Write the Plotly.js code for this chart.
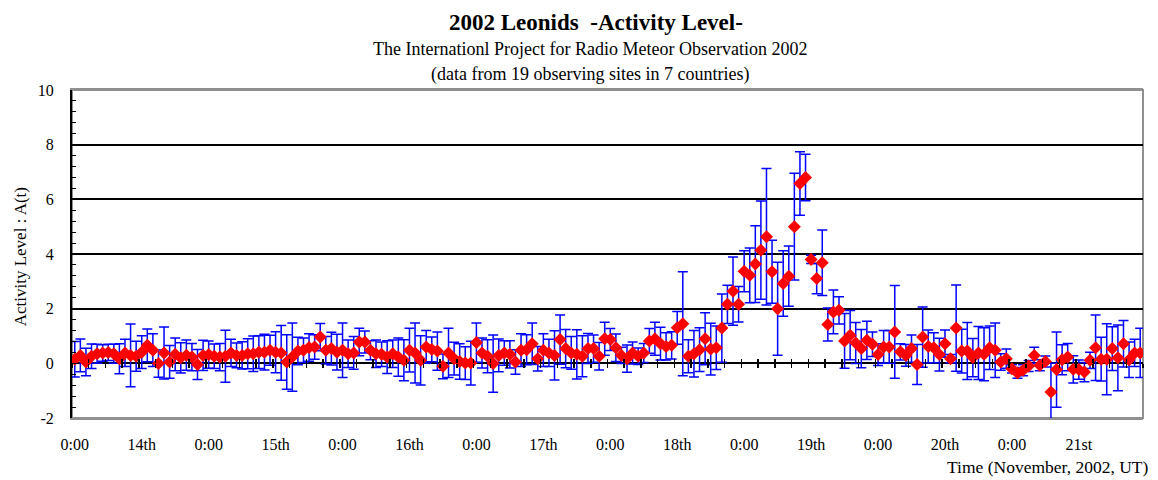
<!DOCTYPE html>
<html>
<head>
<meta charset="utf-8">
<script src="https://cdn.plot.ly/plotly-3.0.1.min.js"></script>
<style>html,body{margin:0;padding:0;background:#fff;}#chart{width:1158px;height:480px;}</style>
</head>
<body>
<div id="chart"></div>
<script>
// Hours since 14 November 2002 0:00 UT (hourly bins)
const hours = [0,1,2,3,4,5,6,7,8,9,10,11,12,13,14,15,16,17,18,19,20,21,22,23,
24,25,26,27,28,29,30,31,32,33,34,35,36,37,38,39,40,41,42,43,44,45,46,47,
48,49,50,51,52,53,54,55,56,57,58,59,60,61,62,63,64,65,66,67,68,69,70,71,
72,73,74,75,76,77,78,79,80,81,82,83,84,85,86,87,88,89,90,91,92,93,94,95,
96,97,98,99,100,101,102,103,104,105,106,107,108,109,110,111,112,113,114,115,116,117,118,119,
120,121,122,123,124,125,126,127,128,129,130,131,132,133,134,135,136,137,138,139,140,141,142,143,
144,145,146,147,148,149,150,151,152,153,154,155,156,157,158,159,160,161,162,163,164,165,166,167,
168,169,170,171,172,173,174,175,176,177,178,179,180,181,182,183,184,185,186,187,188,189,190,191];

// Activity level A(t)
const activity = [0.15,0.29,0.05,0.26,0.35,0.38,0.40,0.35,0.17,0.38,0.29,0.26,0.41,0.66,0.48,-0.01,0.38,0.05,0.33,0.20,0.30,0.23,-0.04,0.29,
0.32,0.26,0.23,0.26,0.38,0.29,0.29,0.35,0.35,0.41,0.41,0.48,0.41,0.38,0.05,0.23,0.45,0.48,0.58,0.60,0.96,0.48,0.54,0.41,
0.48,0.35,0.38,0.78,0.78,0.48,0.35,0.33,0.23,0.35,0.23,0.11,0.48,0.38,0.11,0.60,0.51,0.45,-0.11,0.38,0.17,0.07,0.01,0.01,
0.76,0.38,0.26,-0.01,0.29,0.38,0.33,0.05,0.48,0.50,0.72,0.17,0.48,0.38,0.29,0.87,0.54,0.38,0.33,0.26,0.54,0.54,0.26,0.90,
0.87,0.57,0.29,0.17,0.38,0.26,0.38,0.82,0.90,0.72,0.62,0.66,1.30,1.45,0.26,0.35,0.50,0.90,0.52,0.57,1.29,2.16,2.64,2.16,
3.37,3.22,3.63,4.14,4.63,3.35,2.00,2.92,3.19,5.00,6.58,6.80,3.80,3.10,3.68,1.42,1.88,1.94,0.82,1.03,0.74,0.54,0.84,0.70,
0.32,0.60,0.60,1.15,0.42,0.29,0.54,-0.04,0.96,0.62,0.57,0.32,0.72,0.17,1.29,0.45,0.45,0.21,0.38,0.33,0.57,0.48,0.05,0.17,
-0.20,-0.35,-0.25,-0.10,0.29,-0.07,0.07,-1.05,-0.23,0.13,0.23,-0.22,-0.23,-0.32,0.11,0.57,0.15,0.15,0.54,0.20,0.72,0.13,0.38,0.38];

// Error (±)
const errors = [0.65,0.60,0.50,0.45,0.35,0.30,0.30,0.35,0.55,0.50,1.15,0.55,0.60,0.60,0.60,0.50,0.95,0.60,0.60,0.55,0.55,0.50,0.55,0.55,
0.50,0.45,0.50,0.95,0.50,0.45,0.50,0.55,0.65,0.60,0.65,0.55,0.75,1.00,1.00,1.25,0.50,0.45,0.50,0.45,0.50,0.50,0.60,0.65,
1.00,0.50,0.60,0.50,0.40,0.35,0.50,0.45,0.60,0.50,0.70,0.75,0.80,1.10,0.90,0.60,0.45,0.70,0.45,0.90,0.60,0.65,0.60,0.80,
0.72,0.55,0.60,1.05,0.60,0.45,0.50,0.45,0.60,0.55,0.76,0.45,0.60,0.50,0.90,0.90,0.70,0.60,0.90,0.75,0.55,0.50,0.50,0.60,
0.40,0.50,0.30,0.50,0.40,0.30,0.35,0.45,0.60,0.60,0.50,0.50,0.60,1.90,0.60,0.85,0.80,0.95,0.95,0.80,1.25,0.70,1.25,0.65,
0.75,1.00,1.40,1.80,2.50,1.15,1.70,1.20,1.10,1.95,1.16,0.85,0.15,0.55,1.20,0.60,0.80,0.50,1.00,0.90,0.75,0.70,0.70,0.45,
0.40,0.60,0.60,1.70,0.30,0.40,0.50,0.73,1.10,0.60,0.55,0.60,0.50,0.15,1.58,0.80,1.04,0.70,0.97,0.97,0.80,1.00,0.30,0.35,
0.15,0.20,0.20,0.20,0.30,0.20,0.20,1.05,1.38,0.55,0.50,0.50,0.35,0.35,0.30,1.20,0.80,1.30,0.80,1.20,0.85,0.65,0.50,0.90];

// Axis labels
const tickHours = [0,12,24,36,48,60,72,84,96,108,120,132,144,156,168,180];
const tickLabels = ["0:00","14th","0:00","15th","0:00","16th","0:00","17th","0:00","18th","0:00","19th","0:00","20th","0:00","21st"];
const yTicks = [-2,0,2,4,6,8,10];
const yTickLabels = ["-2","0","2","4","6","8","10"];

const serif = "Liberation Serif, Times New Roman, serif";

const trace = {
  x: hours, y: activity, type: 'scatter', mode: 'markers',
  marker: {symbol: 'diamond', size: 10, color: '#FF0000', line: {width: 0}},
  error_y: {type: 'data', array: errors, visible: true, color: '#0000FF', thickness: 1.5, width: 5},
  hoverinfo: 'x+y', showlegend: false
};
const dummy2 = {x: [], y: [], xaxis: 'x2', yaxis: 'y', showlegend: false, hoverinfo: 'skip'};
const dummy3 = {x: [], y: [], xaxis: 'x3', yaxis: 'y', showlegend: false, hoverinfo: 'skip'};

const xr = [-0.5, 191.5];
const layout = {
  width: 1158, height: 480,
  margin: {l: 72, r: 15, t: 90, b: 62},
  paper_bgcolor: '#ffffff', plot_bgcolor: '#ffffff',
  font: {family: serif, size: 16, color: '#000'},
  showlegend: false,
  xaxis: {
    range: xr, tickmode: 'array', tickvals: tickHours, ticktext: tickLabels,
    ticks: '', showgrid: false, zeroline: false,
    showline: true, linecolor: '#909090', linewidth: 2, mirror: true,
    tickfont: {family: serif, size: 16, color: '#000'},
    ticklabelstandoff: 11
  },
  xaxis2: {
    overlaying: 'x', anchor: 'free', position: 1/6, range: xr,
    tickmode: 'linear', tick0: -0.5, dtick: 3,
    ticks: 'outside', ticklen: 4, tickwidth: 1.5, tickcolor: '#000',
    showticklabels: false, showgrid: false, zeroline: false, showline: false
  },
  xaxis3: {
    overlaying: 'x', anchor: 'free', position: 1/6, range: xr,
    tickmode: 'linear', tick0: -0.5, dtick: 3,
    ticks: 'inside', ticklen: 4, tickwidth: 1.5, tickcolor: '#000',
    showticklabels: false, showgrid: false, zeroline: false, showline: false
  },
  yaxis: {
    range: [-2, 10], tickmode: 'array', tickvals: yTicks, ticktext: yTickLabels,
    ticks: 'inside', ticklen: 5, tickcolor: '#000', tickwidth: 1.5,
    minor: {dtick: 0.4, tick0: 0, ticks: 'inside', ticklen: 4, tickcolor: '#000', tickwidth: 1, showgrid: false},
    showgrid: true, gridcolor: '#000', gridwidth: 2,
    zeroline: true, zerolinecolor: '#000', zerolinewidth: 2,
    showline: true, linecolor: '#000', linewidth: 2,
    tickfont: {family: serif, size: 16, color: '#000'},
    ticklabelstandoff: 13
  },
  shapes: [{type: 'rect', xref: 'paper', yref: 'paper', x0: 0, x1: 1, y0: 0, y1: 1,
            line: {color: '#909090', width: 2}, layer: 'below'}],
  annotations: [
    {text: '<b>2002 Leonids \u00a0-Activity Level-</b>', xref: 'paper', yref: 'paper', x: 0.489, y: 1, yshift: 68,
     showarrow: false, font: {family: serif, size: 23, color: '#000'}, xanchor: 'center', yanchor: 'middle'},
    {text: 'The Internationl Project for Radio Meteor Observation 2002', xref: 'paper', yref: 'paper', x: 0.484, y: 1, yshift: 41,
     showarrow: false, font: {family: serif, size: 18, color: '#000'}, xanchor: 'center', yanchor: 'middle'},
    {text: '(data from 19 observing sites in 7 countries)', xref: 'paper', yref: 'paper', x: 0.484, y: 1, yshift: 16,
     showarrow: false, font: {family: serif, size: 18, color: '#000'}, xanchor: 'center', yanchor: 'middle'},
    {text: 'Activity Level : A(t)', xref: 'paper', yref: 'paper', x: 0, xshift: -52, y: 0.49,
     showarrow: false, textangle: -90, font: {family: serif, size: 17, color: '#000'}, xanchor: 'center', yanchor: 'middle'},
    {text: 'Time (November, 2002, UT)', xref: 'paper', yref: 'paper', x: 1, xshift: 8, y: 0, yshift: -49,
     showarrow: false, font: {family: serif, size: 17.5, color: '#000'}, xanchor: 'right', yanchor: 'middle'}
  ]
};

Plotly.newPlot('chart', [trace, dummy2, dummy3], layout, {displayModeBar: false, staticPlot: true});
</script>
</body>
</html>
